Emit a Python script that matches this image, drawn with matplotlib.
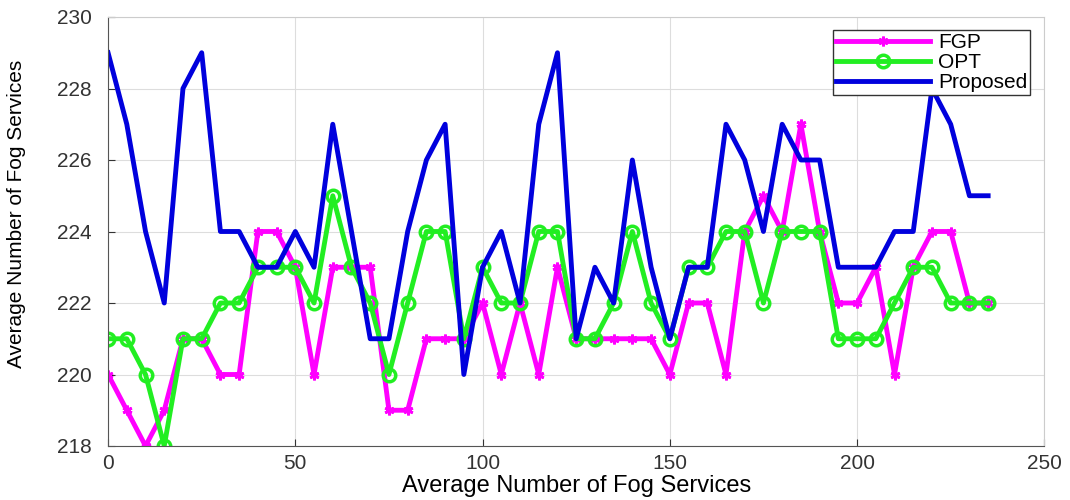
import numpy as np
import matplotlib
matplotlib.use("Agg")
import matplotlib.pyplot as plt

plt.rcParams['font.family'] = ['Liberation Sans', 'DejaVu Sans']

# x positions (every 5 services)
services = np.arange(0, 240, 5)

fgp = [220, 219, 218, 219, 221, 221, 220, 220, 224, 224,
       223, 220, 223, 223, 223, 219, 219, 221, 221, 221,
       222, 220, 222, 220, 223, 221, 221, 221, 221, 221,
       220, 222, 222, 220, 224, 225, 224, 227, 224, 222,
       222, 223, 220, 223, 224, 224, 222, 222]

opt = [221, 221, 220, 218, 221, 221, 222, 222, 223, 223,
       223, 222, 225, 223, 222, 220, 222, 224, 224, 221,
       223, 222, 222, 224, 224, 221, 221, 222, 224, 222,
       221, 223, 223, 224, 224, 222, 224, 224, 224, 221,
       221, 221, 222, 223, 223, 222, 222, 222]

proposed = [229, 227, 224, 222, 228, 229, 224, 224, 223, 223,
            224, 223, 227, 224, 221, 221, 224, 226, 227, 220,
            223, 224, 222, 227, 229, 221, 223, 222, 226, 223,
            221, 223, 223, 227, 226, 224, 227, 226, 226, 223,
            223, 223, 224, 224, 228, 227, 225, 225]

fig = plt.figure(figsize=(10.7, 5), dpi=100)
ax = fig.add_axes([0.101, 0.108, 0.875, 0.858])

ax.plot(services, fgp, color='#FF00FF', linewidth=3.5, marker=(6, 2, 0),
        markersize=7, markeredgewidth=2, label='FGP')
ax.plot(services, opt, color='#22EE22', linewidth=3.5, marker='o',
        markersize=9, markerfacecolor='none', markeredgewidth=2.5, label='OPT')
ax.plot(services, proposed, color='#0000DD', linewidth=3.5, label='Proposed')

ax.set_xlim(0, 250)
ax.set_ylim(218, 230)
ax.set_xticks(np.arange(0, 251, 50))
ax.set_yticks(np.arange(218, 231, 2))
ax.tick_params(direction='in', labelsize=15, length=5, colors='#333333')
ax.tick_params(axis='y', pad=12)
ax.tick_params(axis='x', pad=6)
ax.grid(True, color='#DDDDDD', linewidth=0.8)
ax.set_axisbelow(True)
for side in ['top', 'right']:
    ax.spines[side].set_color('#CCCCCC')
for side in ['left', 'bottom']:
    ax.spines[side].set_color('#555555')

ax.set_xlabel('Average Number of Fog Services', fontsize=17)
ax.xaxis.set_label_coords(0.5, -0.068)
ax.set_ylabel('Average Number of Fog Services', fontsize=15)
ax.yaxis.set_label_coords(-0.088, 0.54)

leg = ax.legend(loc='upper right', bbox_to_anchor=(0.985, 0.97), fontsize=15,
                fancybox=False, edgecolor='#333333', framealpha=1,
                borderpad=0.15, labelspacing=0.05, handlelength=4.5,
                handletextpad=0.4, borderaxespad=0)
leg.get_frame().set_linewidth(1)

fig.savefig('out.png', dpi=100)
